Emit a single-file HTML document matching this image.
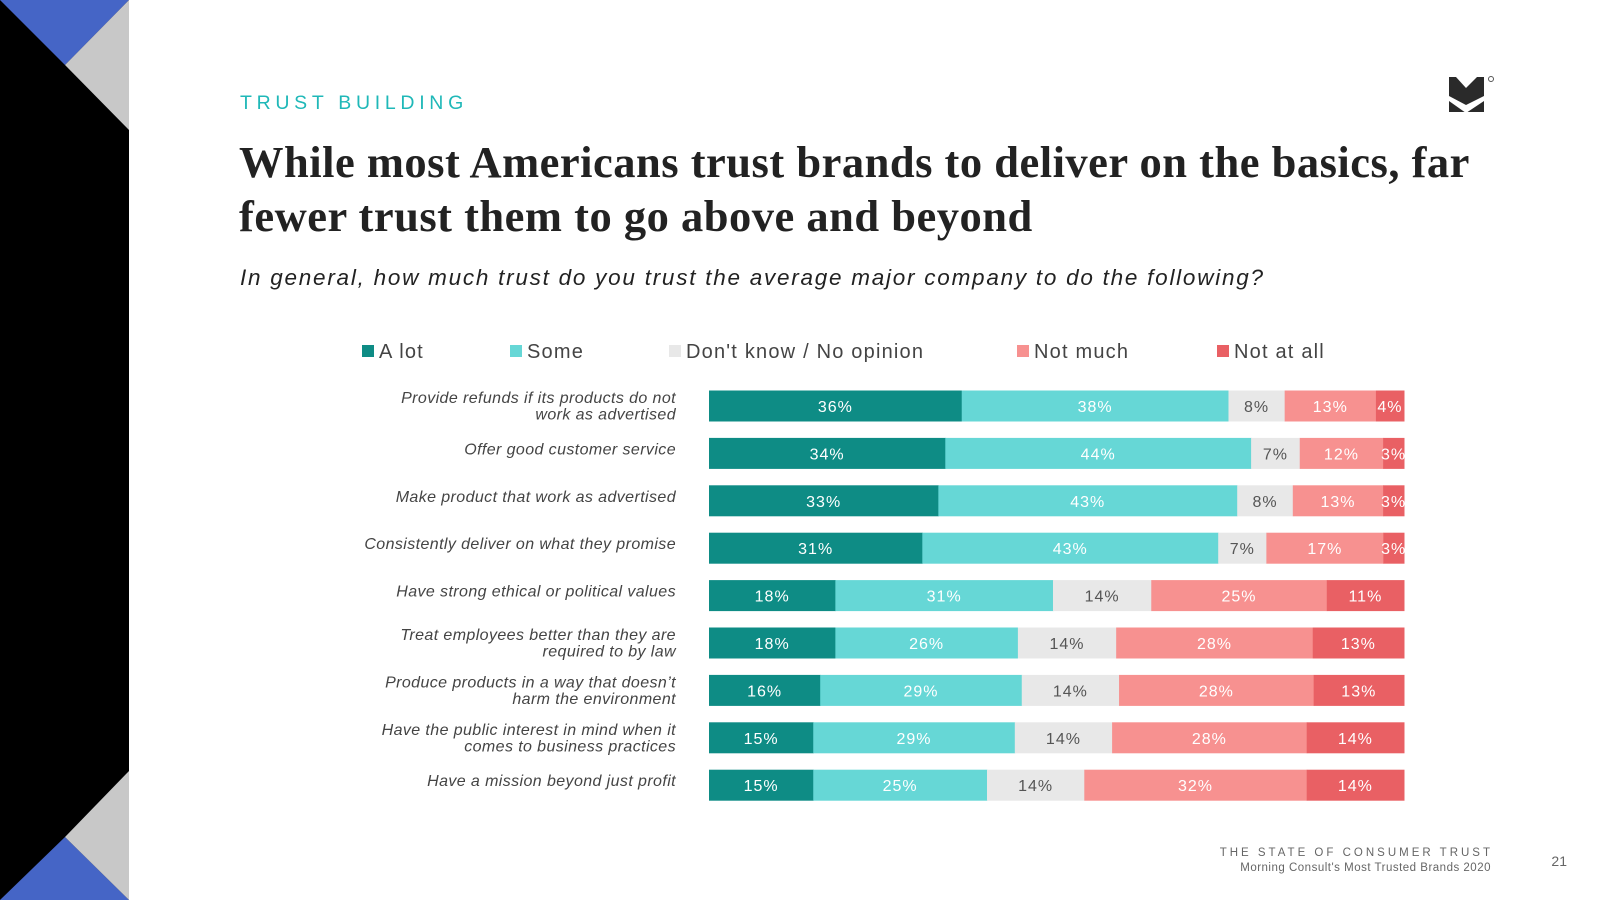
<!DOCTYPE html>
<html><head><meta charset="utf-8"><style>
html,body{margin:0;padding:0;background:#fff;}
svg{display:block;}
</style></head><body>
<svg id="chart" width="1600" height="900" viewBox="0 0 1600 900" style="font-family:'Liberation Sans',sans-serif">
<g>
<rect x="0" y="0" width="129" height="900" fill="#000"/>
<polygon points="0,0 129,0 65,65" fill="#4565c6"/>
<polygon points="129,0 129,130 65,65" fill="#c8c8c8"/>
<polygon points="0,900 129,900 65,837" fill="#4565c6"/>
<polygon points="129,900 129,771 65,837" fill="#c8c8c8"/>
</g>
<text x="240" y="109" font-size="19.5" fill="#1fb8b8" letter-spacing="4.7">TRUST BUILDING</text>
<g>
<rect x="1449" y="77" width="35" height="35" fill="#2a2a2a"/>
<polygon points="1449,96 1466,105 1484,96 1484,101 1466,113 1449,101" fill="#fff"/>
<polygon points="1456,77 1477,77 1466,88" fill="#fff"/>
<circle cx="1491" cy="79" r="2.5" fill="none" stroke="#555" stroke-width="1"/>
</g>
<text style="font-family:'Liberation Serif',serif" font-weight="bold" font-size="44.5" fill="#222" letter-spacing="0.5">
<tspan x="239" y="177">While most Americans trust brands to deliver on the basics, far</tspan>
<tspan x="239" y="231">fewer trust them to go above and beyond</tspan></text>
<text x="240" y="285" font-size="22.5" font-style="italic" fill="#222" letter-spacing="1.75">In general, how much trust do you trust the average major company to do the following?</text>
<g id="legend"></g>
<g id="bars"></g>
<text x="1493" y="856" text-anchor="end" font-size="11.5" fill="#666" letter-spacing="3">THE STATE OF CONSUMER TRUST</text>
<text x="1491" y="871" text-anchor="end" font-size="11.5" fill="#666" letter-spacing="0.5">Morning Consult's Most Trusted Brands 2020</text>
<text x="1567" y="866" text-anchor="end" font-size="14" fill="#666">21</text>
</svg>
<script>
const categories = [
 ["Provide refunds if its products do not","work as advertised"],
 ["Offer good customer service"],
 ["Make product that work as advertised"],
 ["Consistently deliver on what they promise"],
 ["Have strong ethical or political values"],
 ["Treat employees better than they are","required to by law"],
 ["Produce products in a way that doesn\u2019t","harm the environment"],
 ["Have the public interest in mind when it","comes to business practices"],
 ["Have a mission beyond just profit"]
];
const seriesNames = ["A lot","Some","Don't know / No opinion","Not much","Not at all"];
const aLot = [36,34,33,31,18,18,16,15,15];
const some = [38,44,43,43,31,26,29,29,25];
const dontKnow = [8,7,8,7,14,14,14,14,14];
const notMuch = [13,12,13,17,25,28,28,28,32];
const notAtAll = [4,3,3,3,11,13,13,14,14];
const series = [aLot,some,dontKnow,notMuch,notAtAll];
const colors = ["#0e8c85","#66d7d6","#e8e8e8","#f79190","#e96064"];
const textColors = ["#fff","#fff","#555","#fff","#fff"];
const legendX = [362,510,669,1017,1217];
const NS="http://www.w3.org/2000/svg";
function mk(tag,attrs,parent){const e=document.createElementNS(NS,tag);for(const k in attrs)e.setAttribute(k,attrs[k]);parent.appendChild(e);return e;}
const X0=709, X1=1404, rowY0=406, rowStep=47.4, barH=31;
const xScale=(v,total)=>v/total*(X1-X0);
const yScale=i=>rowY0+i*rowStep;
const lg=document.getElementById('legend');
seriesNames.forEach((n,i)=>{
 const r=mk('rect',{x:legendX[i],y:345,width:12,height:12,fill:colors[i]},lg);
 
 
 const t=mk('text',{x:legendX[i]+17,y:358,'font-size':20,fill:'#444','letter-spacing':'1.2'},lg);
 t.textContent=n;
 
 
});
const bg=document.getElementById('bars');
categories.forEach((lines,i)=>{
 const cy=yScale(i);
 const total=series.reduce((s,a)=>s+a[i],0);
 const lt=mk('text',{x:676,'font-size':16,'font-style':'italic',fill:'#444','text-anchor':'end','letter-spacing':'0.4'},bg);
 
 
 const off = lines.length===2 ? -8 : -4;
 lines.forEach((l,j)=>{const ts=mk('tspan',{x:676,y:cy+off+j*16.5+5},lt);ts.textContent=l;});
 let x=X0;
 series.forEach((arr,k)=>{
  const w=xScale(arr[i],total);
  const r=mk('rect',{x:x,y:cy-barH/2,width:w+0.5,height:barH,fill:colors[k]},bg);
  
  
  const t=mk('text',{x:x+w/2,y:cy+6,'font-size':16,fill:textColors[k],'text-anchor':'middle','letter-spacing':'1'},bg);
  t.textContent=arr[i]+'%';
  
  
  x+=w;
 });
});
</script>
</body></html>
